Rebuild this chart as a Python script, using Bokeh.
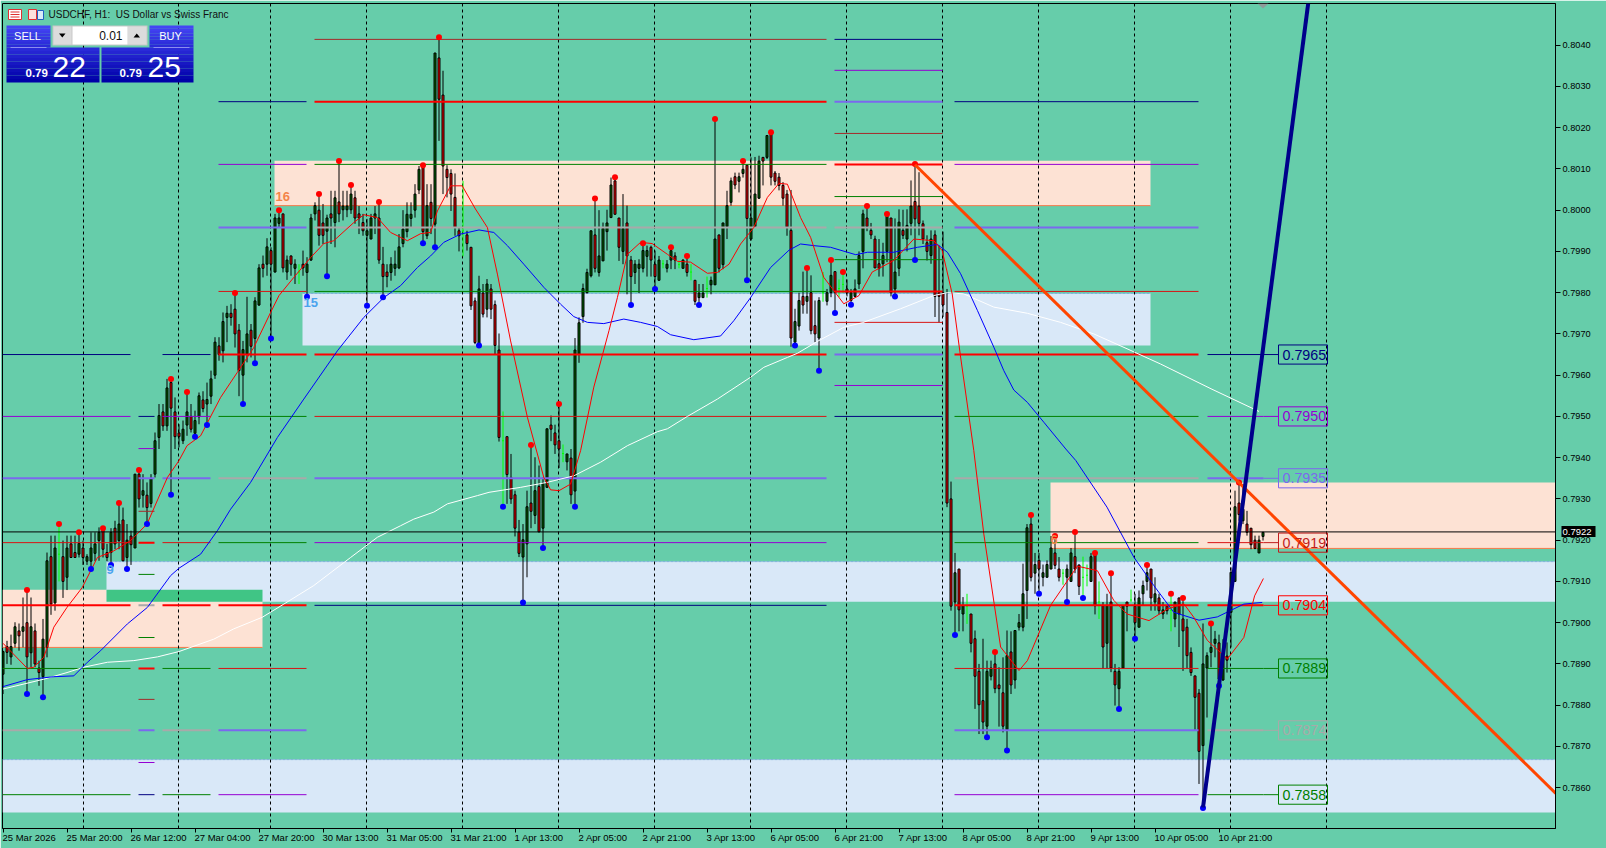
from bokeh.plotting import figure
from bokeh.embed import file_html
from bokeh.resources import INLINE
from bokeh.models import Range1d, FixedTicker, NumeralTickFormatter, LinearAxis
from bokeh.core.properties import value

# ---- candles as (open, high, low, close) in points of 0.00001, one list per stretch of the chart ----
bars_25mar = [(78875,78932,78827,78930),(78942,78956,78900,78928),(78917,78971,78898,78942),(78950,79001,78940,78990),(78980,78998,78932,78968),(78979,79061,78940,78990),(79000,79079,78827,78917),(78927,79061,78892,78990),(78980,78998,78892,78900),(78890,78908,78847,78879),(78869,79009,78819,78960),(78940,79170,78916,79150),(79160,79211,79019,79045),(79048,79211,79029,79181),(79166,79239,79100,79166),(79160,79199,79060,79100),(79110,79211,79079,79181),(79191,79211,79158,79158),(79170,79211,79158,79158),(79166,79219,79158,79192),(79181,79199,79140,79158),(79149,79166,79140,79160),(79149,79219,79130,79181),(79168,79219,79149,79191),(79199,79231,79150,79219),(79229,79229,79158,79178),(79170,79191,79149,79158),(79170,79229,79140,79219),(79229,79247,79178,79191),(79199,79290,79178,79239),(79249,79279,79149,79150),(79158,79239,79130,79200),(79210,79223,79140,79189),(79181,79360,79181,79360),(79360,79370,79279,79300),(79309,79360,79279,79320),(79309,79340,79239,79279),(79289,79360,79279,79350)]
bars_26mar = [(79360,79461,79352,79441),(79449,79530,79421,79502),(79511,79530,79465,79477),(79477,79591,79465,79569),(79582,79591,79310,79520),(79511,79546,79421,79451),(79460,79481,79425,79451),(79441,79490,79433,79469),(79479,79559,79453,79511),(79500,79530,79461,79469),(79459,79514,79451,79490),(79499,79558,79481,79550),(79540,79561,79510,79519),(79530,79582,79479,79541),(79549,79611,79530,79591),(79600,79692,79591,79680),(79671,79692,79635,79650),(79659,79752,79631,79730),(79740,79768,79680,79750),(79750,79772,79720,79740),(79760,79799,79667,79700),(79709,79724,79549,79611),(79600,79683,79530,79662),(79651,79790,79631,79700),(79709,79724,79643,79670),(79689,79789,79629,79780)]
bars_27mar = [(79770,79869,79768,79860),(79869,79890,79837,79859),(79869,79932,79841,79911),(79902,79910,79689,79869),(79850,79991,79849,79981),(79968,80000,79958,79981),(79991,79991,79849,79860),(79850,79890,79831,79879),(79889,79890,79841,79869),(79859,79881,79821,79869),(79850,79869,79821,79850),(79869,79902,79841,79860),(79849,79886,79790,79869),(79879,79991,79877,79981),(79991,80019,79975,80011),(80000,80039,79914,79939),(79969,80015,79918,79939),(79949,79989,79840,79981),(79991,80047,79918,79981),(79970,80047,79910,80030),(80020,80119,79971,79991),(80001,80047,79975,80010),(80001,80047,79983,80010),(80001,80061,79991,80039),(80030,80047,79967,79981),(79991,80010,79942,79981),(79970,79991,79938,79950),(79939,79979,79768,79950),(79930,79991,79930,79981),(79981,80010,79942,79991),(79981,80020,79870,79879),(79869,79911,79789,79839),(79850,79869,79813,79839),(79849,79886,79829,79869),(79859,79902,79841,79869),(79860,79942,79857,79911)]
bars_31mar = [(79919,80000,79910,79954),(79948,80019,79934,79990),(79980,80019,79958,79990),(80000,80063,79982,80039),(80049,80107,80039,80099),(80109,80109,79920,79948),(79938,80063,79930,80011),(80019,80063,79942,79980),(79966,80381,79910,80381),(80369,80419,80168,80269),(80279,80338,80039,80107),(80099,80109,80031,80079),(80089,80099,79998,80039),(80031,80089,79938,79958),(79950,79958,79900,79938),(79950,80071,79888,79950),(79940,79950,79902,79919),(79910,79910,79758,79768),(79780,79788,79675,79679),(79677,79841,79672,79809),(79799,79821,79740,79748),(79760,79833,79740,79821),(79809,79821,79736,79760),(79771,79781,79650,79672)]
bars_1apr = [(79661,79701,79439,79449),(79441,79512,79281,79441),(79451,79451,79288,79359),(79352,79409,79288,79300),(79310,79320,79209,79229),(79220,79249,79159,79168),(79159,79239,79049,79201),(79191,79320,79110,79281),(79290,79431,79229,79270),(79260,79401,79239,79320),(79330,79381,79220,79220),(79229,79352,79181,79338),(79328,79470,79328,79470),(79479,79502,79440,79469),(79460,79480,79409,79431),(79441,79530,79375,79421),(79410,79432,79389,79410),(79390,79409,79369,79409),(79399,79421,79288,79310),(79319,79690,79281,79661),(79650,79740,79630,79727),(79742,79822,79727,79810),(79800,79858,79798,79849)]
bars_2apr = [(79841,79950,79837,79950),(79940,80028,79849,79859),(79849,80000,79839,79889),(79877,79970,79877,79956),(79948,80001,79902,79969),(79982,80079,79982,80061),(80071,80080,79990,79990),(79981,79981,79877,79910),(79900,80039,79869,79956),(79969,80011,79796,79889),(79879,79889,79770,79839),(79849,79879,79821,79869),(79859,79881,79799,79869),(79859,79920,79849,79902),(79888,79914,79839,79902),(79910,79914,79839,79879),(79869,79902,79809,79839),(79830,79889,79829,79879),(79870,79879,79859,79870),(79859,79879,79849,79869),(79879,79910,79857,79902),(79889,79898,79857,79879),(79868,79877,79859,79868),(79859,79881,79859,79879),(79869,79889,79839,79849),(79850,79869,79830,79850),(79830,79830,79770,79779),(79788,79821,79770,79799),(79788,79821,79788,79799),(79810,79839,79788,79810),(79819,79839,79796,79830)]
bars_3apr = [(79819,80221,79819,79930),(79940,79940,79849,79859),(79868,79969,79857,79969),(79960,80047,79930,80011),(80019,80079,80011,80071),(80081,80091,80051,80061),(80070,80091,80043,80081),(80089,80119,80079,80099),(80109,80109,79830,79980),(79930,80128,79926,79981),(79960,80129,79958,80039),(80029,80132,80027,80119),(80128,80128,80060,80119),(80128,80181,80124,80181),(80189,80189,80060,80080),(80090,80095,80060,80070),(80080,80090,80048,80060),(80060,80068,80011,80029),(80039,80049,79938,79959),(79951,80049,79669,79690)]
bars_6apr = [(79680,79761,79672,79730),(79719,79800,79708,79781),(79791,79851,79749,79770),(79779,79860,79749,79791),(79800,79842,79699,79708),(79720,79781,79680,79700),(79690,79789,79611,79781),(79800,79850,79778,79800),(79779,79809,79769,79800),(79800,79879,79789,79842),(79851,79851,79751,79800),(79810,79832,79789,79810),(79820,79850,79800,79820),(79809,79832,79791,79800),(79781,79809,79771,79800),(79791,79832,79789,79809),(79821,79900,79809,79890),(79900,80001,79859,79991),(79981,80010,79949,79960),(79951,79969,79930,79940),(79930,79938,79860,79860),(79870,79930,79839,79859),(79870,79921,79839,79890),(79900,79991,79874,79989),(79981,79981,79791,79800),(79809,79980,79791,79850),(79859,80002,79840,79971),(79951,80001,79930,79939),(79930,80002,79900,79963),(79968,80072,79939,80010),(80021,80112,79879,79979),(80010,80092,79939,79968),(79967,79975,79918,79930),(79921,79939,79878,79900),(79890,79951,79870,79930),(79940,79951,79741,79791),(79800,79914,79728,79791),(79800,79948,79741,79770)]
bars_8apr = [(79752,79809,79280,79290),(79300,79342,79029,79040),(79050,79169,78970,79121),(79130,79130,78979,79031),(79021,79062,78979,79041),(79040,79070,78997,79040),(79021,79021,78928,78950),(78961,78981,78791,78870),(78882,78900,78730,78801),(78811,78961,78730,78759),(78749,78908,78722,78882),(78870,78908,78860,78890),(78900,78929,78829,78840),(78849,78892,78748,78840),(78830,78916,78734,78749),(78740,78981,78690,78920),(78929,78979,78827,78849),(78861,78981,78840,78981),(78989,79021,78981,79000),(78989,79143,78979,79070),(79078,79239,79009,79230),(79239,79261,79100,79110),(79120,79169,79070,79141),(79151,79169,79070,79130),(79110,79141,79088,79121),(79110,79151,79110,79141),(79130,79210,79130,79181),(79169,79210,79130,79139),(79130,79159,79100,79110),(79120,79130,79092,79120),(79110,79141,79050,79130),(79100,79181,79100,79169)]
bars_9apr = [(79160,79220,79120,79130),(79140,79140,79067,79088),(79110,79160,79060,79110),(79115,79141,79088,79115),(79100,79169,79100,79160),(79169,79169,79020,79041),(79050,79100,79009,79050),(79041,79050,78888,78941),(78950,79070,78888,79041),(79050,79120,78880,78890),(78882,78900,78799,78849),(78840,78892,78791,78882),(78890,79041,78888,79041),(79050,79050,78979,79040),(79055,79080,79050,79055),(79040,79070,78961,79000),(78989,79078,78989,79060),(79070,79102,79041,79090),(79100,79140,79078,79121),(79130,79130,79029,79060),(79050,79110,79029,79070),(79060,79070,79020,79029),(79021,79050,79009,79031),(79040,79040,79020,79029),(79030,79070,78979,79030),(79009,79050,78989,79050),(79060,79060,78941,79021)]
bars_10apr = [(79009,79060,78883,78980),(78989,79009,78888,78920),(78928,78940,78871,78879),(78871,78871,78738,78819),(78829,78839,78609,78688),(78702,78998,78551,78900),(78890,78928,78770,78920),(78928,78998,78892,78940),(78950,78980,78916,78960),(78951,78971,78847,78863),(78861,78960,78859,78920),(78919,78952,78879,78909),(79025,79134,78940,79122),(79100,79320,79100,79281),(79290,79340,79247,79262),(79247,79336,79239,79275),(79239,79271,79211,79219),(79229,79229,79178,79189),(79200,79211,79178,79180),(79169,79211,79169,79200),(79209,79219,79199,79219)]

lime_bars = [14,74,115,125,140,165,169,172,176,205,209,210,241,265,270,271,274,282,292]
swing_high_bars = [6,14,19,25,29,34,42,46,58,69,79,84,87,94,105,109,132,139,148,153,160,167,171,178,185,192,201,207,210,216,221,228,248,257,263,268,273,277,286,292,295,302,309]
swing_low_bars = [6,10,22,27,31,36,42,48,51,60,63,67,76,81,91,95,105,108,119,125,130,135,143,157,163,174,186,198,204,208,212,223,228,238,246,251,259,266,270,279,283,300,304]

# ---- moving averages: bar position, price points ----
ma_red_bar = [0,6.1,7.7,10.2,12.7,16,19.8,23.6,27.7,31.9,36,41.1,44,46,49.4,54.4,58.6,62.7,66.9,69,72.7,76.9,80.2,82.7,87.7,90.2,93.6,96.9,101.1,104.4,106.9,108.6,111.9,114.8,118.1,121.1,123.6,126.9,131.1,135.2,136.9,139,141.9,144.4,147.7,151.5,153.6,156.1,159.4,162.3,166.1,168.6,171.9,176.1,178.6,181.5,184.4,187.7,191.1,194,196.1,199.4,201.9,205.2,210.2,214,217.3,222.7,227.7,232.7,234.8,237.3,239.4,242.7,245.2,249.4,254,256.1,261.9,268.6,273.6,277.7,281,286.5,291.1,295.2,297.7,301.1,306.1,310.2,312.9,315.1]
ma_red_pts = [78950,78889,78892,78916,78989,79037,79085,79158,79174,79199,79239,79352,79393,79429,79453,79546,79607,79667,79752,79793,79837,79885,79919,79926,79970,79989,79982,79946,79926,79943,79946,79998,80059,80059,80003,79958,79845,79683,79498,79352,79322,79320,79336,79417,79571,79708,79788,79893,79922,79919,79893,79876,79874,79847,79849,79869,79918,79958,80031,80065,80063,79982,79934,79837,79773,79793,79850,79878,79930,79926,79902,79797,79644,79417,79215,78941,78884,78908,79042,79137,79126,79054,79021,79005,79033,79046,79013,78957,78912,78964,79065,79107]
ma_blue_bar = [0,6.1,12.7,17.7,21.1,24.4,31.1,36.1,41.9,44,49.4,53.6,56.9,61.9,68.6,75.2,83.6,90.2,95.2,99.4,103.6,106.9,110.2,114.4,119,122.7,126.1,130.2,135.2,139.4,142.7,146.1,150.2,155.2,159.4,163.6,166.9,172.7,179.4,182.7,186.9,191.9,196.5,199.4,202.7,206.9,213.2,216.1,222.7,228.6,233.6,236.1,239.4,243.6,247.7,250.2,252.7,256.1,260.2,265.7,268.2,276,282.7,287.7,292.7,299,303.6,310.2,314.8]
ma_blue_pts = [78845,78862,78869,78871,78904,78932,78997,79037,79114,79132,79166,79223,79275,79340,79449,79542,79659,79740,79788,79817,79861,79889,79922,79942,79952,79946,79914,79869,79813,79772,79742,79728,79725,79736,79728,79718,79698,79686,79695,79732,79788,79861,79903,79918,79914,79910,79892,79898,79898,79910,79917,79898,79846,79757,79668,79611,79564,79534,79486,79421,79393,79280,79159,79090,79025,79006,79014,79045,79049]
ma_white_bar = [0,10.2,16,20.2,26.1,32.7,38.6,44,52.7,57.7,64.8,70.2,77.7,86.9,93.6,99.4,102.7,107.7,111.1,118.6,121.5,129.4,136,142.7,149.4,156.1,163.6,166.1,171.1,178.6,186.9,190.2,196.1,198.6,204,210.2,214.8,224.4,232.7,236.1,240.2,247.7,256.1,264.4,272.7,281,289.4,302,314]
ma_white_pts = [78839,78863,78879,78892,78904,78908,78917,78930,78960,78985,79013,79045,79090,79158,79207,79235,79251,79268,79288,79308,79316,79328,79340,79356,79389,79429,79463,79470,79500,79542,79595,79619,79643,79653,79684,79716,79727,79761,79793,79800,79797,79765,79750,79728,79700,79664,79627,79567,79512]

# ---- trend lines (bar, price) ----
trend_down_bar = [228, 388.2]
trend_down_price = [0.80110, 0.78586]
trend_up_bar = [300, 326.3]
trend_up_price = [0.78552, 0.80501]

# ---- zones (left px, right px, upper price, lower price) ----
peach_left = [274, 2, 1050]
peach_right = [1150, 262, 1555]
peach_top = [0.80120, 0.79080, 0.79340]
peach_bottom = [0.80011, 0.78940, 0.79180]
pale_left = [302, 106, 2]
pale_right = [1150, 1555, 1555]
pale_top = [0.79798, 0.79148, 0.78668]
pale_bottom = [0.79672, 0.79051, 0.78540]
overlap_zone = (106, 262, 0.79080, 0.79051)

# ---- level rows, one list per block of levels ----
col_a = (2,130,[(.79650,"n"),(.79500,"p"),(.79350,"B"),(.79194,"r"),(.79042,"R"),(.78889,"g"),(.78739,"G"),(.78583,"g")])
col_b = (138,154,[(.79500,"n"),(.79422,"p"),(.79350,"B"),(.79270,"b"),(.79194,"R"),(.79117,"g"),(.79042,"G"),(.78964,"g"),(.78889,"R"),(.78814,"b"),(.78739,"B"),(.78661,"p"),(.78583,"n")])
col_c = (162,210,[(.79650,"n"),(.79500,"p"),(.79350,"B"),(.79194,"r"),(.79042,"R"),(.78889,"g"),(.78739,"G"),(.78583,"g")])
col_d = (218,306,[(.80263,"n"),(.80111,"p"),(.79958,"B"),(.79803,"r"),(.79650,"R"),(.79500,"g"),(.79350,"G"),(.79194,"g"),(.79042,"R"),(.78889,"r"),(.78739,"B"),(.78583,"p")])
col_e = (314,826,[(.80414,"b"),(.80263,"R"),(.80111,"g"),(.79958,"G"),(.79803,"g"),(.79650,"R"),(.79500,"r"),(.79350,"B"),(.79194,"p"),(.79042,"n")])
col_f = (834,942,[(.80414,"n"),(.80339,"p"),(.80263,"B"),(.80186,"b"),(.80111,"R"),(.80033,"g"),(.79958,"G"),(.79880,"g"),(.79803,"R"),(.79728,"r"),(.79650,"B"),(.79575,"p"),(.79500,"n")])
col_g = (954,1198,[(.80263,"n"),(.80111,"p"),(.79958,"B"),(.79803,"r"),(.79650,"R"),(.79500,"g"),(.79350,"G"),(.79194,"g"),(.79042,"R"),(.78889,"r"),(.78739,"B"),(.78583,"p")])
col_h = (1207,1263,[(.79650,"n"),(.79500,"p"),(.79350,"B"),(.79194,"r"),(.79042,"R"),(.78889,"g"),(.78739,"G"),(.78583,"g")])
level_style = {"R":("#ff0000",2),"r":("#d81414",1),"B":("#7b68ee",2),"G":("#a9a9a9",2),"g":("#008000",1),"n":("#000080",1),"p":("#9400d3",1),"b":("#a52a2a",1)}

tag_text = ["0.7965","0.7950","0.7935","0.7919","0.7904","0.7889","0.7874","0.7858"]
tag_price = [.79650,.79500,.79350,.79194,.79042,.78889,.78739,.78583]
tag_color = ["#000080","#9400d3","#7b68ee","#c01c1c","#ff0000","#008000","#a9a9a9","#008000"]

vline_px = [83,178,270,366,462,558,654,750,846,942,1038,1134,1230,1326]
time_labels = ["25 Mar 2026","25 Mar 20:00","26 Mar 12:00","27 Mar 04:00","27 Mar 20:00","30 Mar 13:00","31 Mar 05:00","31 Mar 21:00","1 Apr 13:00","2 Apr 05:00","2 Apr 21:00","3 Apr 13:00","6 Apr 05:00","6 Apr 21:00","7 Apr 13:00","8 Apr 05:00","8 Apr 21:00","9 Apr 13:00","10 Apr 05:00","10 Apr 21:00"]
time_ticks = [i*16 for i in range(len(time_labels))]
price_ticks = [round(0.7860+i*0.001,4) for i in range(19)]
last_price = 0.7922

FONT = "Liberation Sans"
bars = bars_25mar+bars_26mar+bars_27mar+bars_31mar+bars_1apr+bars_2apr+bars_3apr+bars_6apr+bars_8apr+bars_9apr+bars_10apr

p = figure(width=1606, height=848, output_backend="svg", toolbar_location=None,
           x_range=Range1d(-0.125, 388.125), y_range=Range1d(0.78501, 0.80501),
           y_axis_location="right", min_border_left=2, min_border_right=51,
           min_border_top=3, min_border_bottom=20,
           background_fill_color="#66CDAA", border_fill_color="#66CDAA",
           outline_line_color="black", outline_line_width=1)
p.grid.visible = False
p.extra_x_ranges["px"] = Range1d(2, 1555)
p.extra_y_ranges["py"] = Range1d(828, 3)

# bottom axis: tick marks
ax = p.xaxis[0]
ax.ticker = FixedTicker(ticks=time_ticks)
ax.major_tick_in = -4; ax.major_tick_out = 0; ax.minor_tick_line_color = None
ax.major_label_standoff = 0
ax.major_label_text_color = None; ax.major_label_text_font_size = "1px"
ax.major_tick_line_color = "black"; ax.axis_line_color = "black"

# bottom axis: labels that start at their tick, as the terminal draws them
EM = {":":.278," ":.278,"M":.833,"a":.556,"r":.333,"A":.667,"p":.556}
def text_w(s):
    return sum(EM.get(c,.556) for c in s)*9.5
label_at = [round(t + (text_w(s)/2 - 0.5)/4, 3) for t, s in zip(time_ticks, time_labels)]
ax2 = LinearAxis(ticker=FixedTicker(ticks=label_at), major_label_overrides=dict(zip(label_at, time_labels)),
                 axis_line_color=None, major_tick_line_color=None, minor_tick_line_color=None,
                 major_tick_in=0, major_tick_out=0, major_label_standoff=3,
                 major_label_text_font=FONT, major_label_text_font_size="9.5px", major_label_text_color="black")
p.add_layout(ax2, "below")

ay = p.yaxis[0]
ay.ticker = FixedTicker(ticks=price_ticks)
ay.formatter = NumeralTickFormatter(format="0.0000")
ay.major_tick_in = 0; ay.major_tick_out = 5; ay.minor_tick_line_color = None
ay.major_label_standoff = 2
ay.major_label_text_font = FONT; ay.major_label_text_font_size = "9.2px"; ay.major_label_text_color = "black"
ay.axis_line_color = "black"; ay.major_tick_line_color = "black"

# last price tag: a single thick tick forms the black box, its label sits on it
ay2 = LinearAxis(ticker=FixedTicker(ticks=[last_price]), formatter=NumeralTickFormatter(format="0.0000"),
                 axis_line_color=None, minor_tick_line_color=None,
                 major_tick_in=32, major_tick_out=2, major_tick_line_color="black", major_tick_line_width=11,
                 major_label_standoff=-33, major_label_text_color="white",
                 major_label_text_font=FONT, major_label_text_font_size="9.5px")
p.add_layout(ay2, "right")

# zones
p.quad(left=peach_left, right=peach_right, top=peach_top, bottom=peach_bottom, x_range_name="px", fill_color="#FDE2D4", line_color=None)
p.quad(left=pale_left, right=pale_right, top=pale_top, bottom=pale_bottom, x_range_name="px", fill_color="#D9E8F8", line_color=None)
p.quad(left=[overlap_zone[0]], right=[overlap_zone[1]], top=[overlap_zone[2]], bottom=[overlap_zone[3]], x_range_name="px", fill_color="#40C585", line_color=None)
p.segment(peach_left, peach_bottom, peach_right, peach_bottom, x_range_name="px", line_color="#F47A4A", line_width=1)
p.segment(pale_left, pale_top, pale_right, pale_top, x_range_name="px", line_color="#7FB3DC", line_width=1, line_dash="3 1")

# verticals
p.segment(vline_px, [0.78501]*len(vline_px), vline_px, [0.80501]*len(vline_px), x_range_name="px", line_color="black", line_width=1, line_dash="3 3")

# candles
idx = [i for i in range(len(bars)) if i not in lime_bars]
p.segment(idx, [bars[i][1]/1e5 for i in idx], idx, [bars[i][2]/1e5 for i in idx], line_color="black", line_width=1)
up = [i for i in idx if bars[i][3] >= bars[i][0]]
dn = [i for i in idx if bars[i][3] < bars[i][0]]
p.vbar(x=up, width=0.5, top=[bars[i][3]/1e5 for i in up], bottom=[bars[i][0]/1e5 for i in up], fill_color="#006400", line_color="black", line_width=1)
p.vbar(x=dn, width=0.5, top=[bars[i][0]/1e5 for i in dn], bottom=[bars[i][3]/1e5 for i in dn], fill_color="#ff0000", line_color="black", line_width=1)
p.segment(lime_bars, [bars[i][1]/1e5 for i in lime_bars], lime_bars, [bars[i][2]/1e5 for i in lime_bars], line_color="#00ff00", line_width=1)
p.segment([i-.25 for i in lime_bars], [bars[i][0]/1e5 for i in lime_bars], [i+.25 for i in lime_bars], [bars[i][0]/1e5 for i in lime_bars], line_color="#00ff00", line_width=1)

# levels
for x0, x1, rows in (col_a,col_b,col_c,col_d,col_e,col_f,col_g,col_h):
    for price, st in rows:
        c, w = level_style[st]
        p.line([x0, x1], [price, price], x_range_name="px", line_color=c, line_width=w)
# lines running out to the tags
p.segment([1263]*8, tag_price, [1278]*8, tag_price, x_range_name="px", line_color=tag_color, line_width=1)

# moving averages
p.line(ma_white_bar, [v/1e5 for v in ma_white_pts], line_color="white", line_width=1)
p.line(ma_blue_bar, [v/1e5 for v in ma_blue_pts], line_color="#0000ff", line_width=1)
p.line(ma_red_bar, [v/1e5 for v in ma_red_pts], line_color="#ff0000", line_width=1)

# crosshair of last price
p.line([-0.125, 388.125], [last_price, last_price], line_color="black", line_width=1)

# swing dots
p.scatter(swing_high_bars, [bars[i][1]/1e5 for i in swing_high_bars], size=6, fill_color="#ff0000", line_color=None)
p.scatter(swing_low_bars, [bars[i][2]/1e5 for i in swing_low_bars], size=6, fill_color="#0000ff", line_color=None)

# trend lines
p.line(trend_down_bar, trend_down_price, line_color="#FF4500", line_width=3)
p.line(trend_up_bar, trend_up_price, line_color="#00008B", line_width=4)

# tags
hh = 0.000232
p.quad(left=[1278]*8, right=[1327]*8, top=[v+hh for v in tag_price], bottom=[v-hh for v in tag_price], x_range_name="px", fill_color=None, line_color=tag_color, line_width=1)
p.text([1282]*8, tag_price, text=tag_text, x_range_name="px", text_color=tag_color, text_font=value(FONT), text_font_size="14.3px", text_baseline="middle", text_align="left")

# zone counters
for t_, x, y, c in (("16",275,196,"#F4844A"),("15",303,302,"#4AA3EE"),("9",106,569,"#4AA3EE"),("6",1050,539,"#F4844A")):
    p.text([x],[y],text=[t_],x_range_name="px",y_range_name="py",text_color=c,text_font=value(FONT),text_font_style="bold",text_font_size="13px",text_baseline="middle",text_align="left")

# grey marker at the top
p.patch([1257,1268,1262.5],[3,3,8],x_range_name="px",y_range_name="py",fill_color="#8E9C9A",line_color=None)

# title + icons
p.text([48],[14],text=["USDCHF, H1:\u00a0 US Dollar vs Swiss Franc"],x_range_name="px",y_range_name="py",text_color="#101010",text_font=value(FONT),text_font_size="10px",text_baseline="middle",text_align="left")
p.quad(left=[8],right=[21],top=[9],bottom=[19],x_range_name="px",y_range_name="py",fill_color="white",line_color="#e03030",line_width=1)
p.segment([10,10,10],[11.5,14,16.5],[19,19,19],[11.5,14,16.5],x_range_name="px",y_range_name="py",line_color="#e03030",line_width=1)
p.quad(left=[28,37],right=[36,43],top=[9,10],bottom=[19,19],x_range_name="px",y_range_name="py",fill_color=["#fbe0dc","#d8ecf8"],line_color=["#e03030","#2060c0"],line_width=1)

# trade panel
def band(x0,x1,y0,y1,c0,c1,n):
    def mix(t):
        a=[int(c0[i:i+2],16) for i in (1,3,5)]; b=[int(c1[i:i+2],16) for i in (1,3,5)]
        return "#%02x%02x%02x"%tuple(round(a[j]+(b[j]-a[j])*t) for j in range(3))
    h=(y1-y0)/n
    p.quad(left=[x0]*n,right=[x1]*n,top=[y0+i*h for i in range(n)],bottom=[y0+(i+1)*h for i in range(n)],x_range_name="px",y_range_name="py",fill_color=[mix(i/(n-1)) for i in range(n)],line_color=None)
band(6,50,25,47,"#4444f4","#2a2ad8",8)
band(149,193,25,47,"#4444f4","#2a2ad8",8)
band(6,99,47,82,"#2a2ad8","#0000a8",10)
band(101,193,47,82,"#2a2ad8","#0000a8",10)
p.segment([10,153],[47,47],[46,189],[47,47],x_range_name="px",y_range_name="py",line_color="#8c8cf0",line_width=1)
p.quad(left=[52],right=[147],top=[25],bottom=[45],x_range_name="px",y_range_name="py",fill_color="#c8c8c8",line_color=None)
p.quad(left=[53,127],right=[71,146],top=[26,26],bottom=[44,44],x_range_name="px",y_range_name="py",fill_color="#dcdcdc",line_color=None)
p.quad(left=[72],right=[127],top=[26],bottom=[44],x_range_name="px",y_range_name="py",fill_color="white",line_color=None)
p.patch([58.5,65,61.75],[33,33,37],x_range_name="px",y_range_name="py",fill_color="black",line_color=None)
p.patch([133,139.5,136.25],[37,37,33],x_range_name="px",y_range_name="py",fill_color="black",line_color=None)
def t(x,y,s,size,color="white",style="normal",align="left"):
    p.text([x],[y],text=[s],x_range_name="px",y_range_name="py",text_color=color,text_font=value(FONT),text_font_style=style,text_font_size=size,text_baseline="middle",text_align=align)
t(27,35,"SELL","11px",align="center")
t(170,35,"BUY","11px",align="center")
t(122,35,"0.01","12px",color="#101010",align="right")
t(25,72,"0.79","11.5px",style="bold")
t(119,72,"0.79","11.5px",style="bold")
t(52,66,"22","30px")
t(147,66,"25","30px")

open("out.html", "w").write(file_html(p, INLINE))
